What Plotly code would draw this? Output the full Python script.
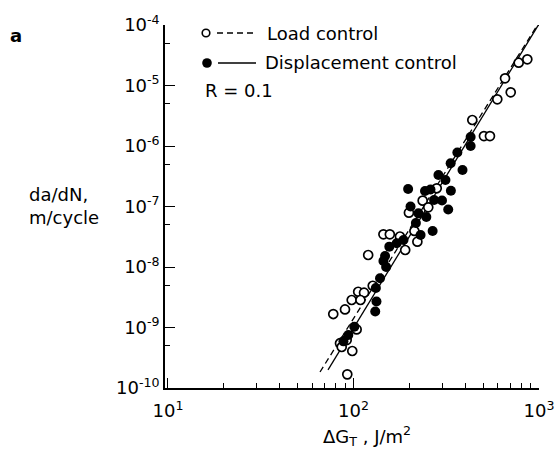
import plotly.graph_objects as go

# ---- data ----
load_dG = [865, 777, 656, 704, 596, 437, 505, 544, 281, 236, 253, 199, 213, 221,
           145, 157, 178, 190, 120, 127, 106, 114, 97.8, 109, 90, 77.8, 104, 91.9,
           84.6, 86.4, 98.5, 92.6]
load_dadN = [2.71e-5, 2.38e-5, 1.315e-5, 7.72e-6, 5.91e-6, 2.69e-6, 1.46e-6, 1.46e-6,
             2.0e-7, 1.25e-7, 9.7e-8, 7.9e-8, 3.94e-8, 2.62e-8, 3.47e-8, 3.47e-8,
             3.19e-8, 1.91e-8, 1.58e-8, 4.9e-9, 3.9e-9, 3.76e-9, 2.85e-9, 2.85e-9,
             1.99e-9, 1.67e-9, 9.3e-10, 6.2e-10, 5.5e-10, 4.76e-10, 4.09e-10, 1.68e-10]

disp_dG = [428, 428, 363, 334, 387, 287, 313, 335, 197, 243, 260, 272, 300, 324,
           203, 224, 247, 217, 267, 230, 186, 171, 156, 148, 145, 150, 139, 132,
           133, 131, 101, 93.8, 88.3]
disp_dadN = [1.41e-6, 1.0e-6, 7.8e-7, 5.18e-7, 4.01e-7, 3.32e-7, 2.74e-7, 1.82e-7,
             1.95e-7, 1.80e-7, 1.91e-7, 1.28e-7, 1.26e-7, 8.9e-8, 1.0e-7, 7.7e-8,
             6.7e-8, 5.33e-8, 3.94e-8, 3.38e-8, 2.79e-8, 2.47e-8, 2.17e-8, 1.52e-8,
             1.26e-8, 1.0e-8, 6.5e-9, 4.5e-9, 2.69e-9, 1.84e-9, 1.03e-9, 7.5e-10, 5.9e-10]

# regression lines (end points)
load_fit_dG = [66.0, 1000]
load_fit_dadN = [1.84e-10, 1.1e-4]
disp_fit_dG = [72.9, 1020]
disp_fit_dadN = [1.99e-10, 1.15e-4]

x_tickvals = [10, 100, 1000]
x_ticktext = ["10<sup>1</sup>", "10<sup>2</sup>", "10<sup>3</sup>"]
y_tickvals = [1e-10, 1e-9, 1e-8, 1e-7, 1e-6, 1e-5, 1e-4]
y_ticktext = ["10<sup>-10</sup>", "10<sup>-9</sup>", "10<sup>-8</sup>", "10<sup>-7</sup>",
              "10<sup>-6</sup>", "10<sup>-5</sup>", "10<sup>-4</sup>"]
x_minor = [m * 10 ** e for e in (1, 2) for m in range(2, 10)]
y_minor = [5 * 10.0 ** e for e in range(-10, -4)]

FONT = "DejaVu Sans"
W, H = 560, 453
L, R, T, B = 165, 21, 25, 65
PW, PH = W - L - R, H - T - B


def px(x):
    return (x - L) / PW


def py(y):
    return (H - B - y) / PH


fig = go.Figure()
fig.add_trace(go.Scatter(x=load_fit_dG, y=load_fit_dadN, mode="lines",
                         line=dict(color="black", width=1.3, dash="6px,4px"),
                         showlegend=False, hoverinfo="skip"))
fig.add_trace(go.Scatter(x=disp_fit_dG, y=disp_fit_dadN, mode="lines",
                         line=dict(color="black", width=1.3),
                         showlegend=False, hoverinfo="skip"))
fig.add_trace(go.Scatter(x=load_dG, y=load_dadN, mode="markers",
                         marker=dict(symbol="circle", size=9, color="white",
                                     line=dict(color="black", width=1.7)),
                         showlegend=False))
fig.add_trace(go.Scatter(x=disp_dG, y=disp_dadN, mode="markers",
                         marker=dict(symbol="circle", size=10, color="black",
                                     line=dict(color="black", width=0)),
                         showlegend=False))

axis_common = dict(showline=True, linecolor="black", linewidth=1.6, mirror=False,
                   showgrid=False, zeroline=False, ticks="inside", ticklen=10,
                   tickwidth=1.4, tickcolor="black", tickmode="array",
                   tickfont=dict(family=FONT, size=18, color="black"))

fig.update_xaxes(type="log", range=[0.984, 3.0], tickvals=x_tickvals, ticktext=x_ticktext,
                 ticklabelstandoff=6,
                 minor=dict(tickvals=x_minor, ticks="inside", ticklen=5, tickwidth=1.2,
                            tickcolor="black", showgrid=False),
                 **axis_common)
fig.update_yaxes(type="log", range=[-10, -4], tickvals=y_tickvals, ticktext=y_ticktext,
                 minor=dict(tickvals=y_minor, ticks="inside", ticklen=5, tickwidth=1.2,
                            tickcolor="black", showgrid=False),
                 **axis_common)

ann_font = dict(family=FONT, size=18, color="black")
annotations = [
    dict(x=px(265), y=py(33), text="Load control", xanchor="left", yanchor="middle"),
    dict(x=px(263), y=py(63), text="Displacement control", xanchor="left", yanchor="middle"),
    dict(x=px(203), y=py(90), text="R = 0.1", xanchor="left", yanchor="middle"),
    dict(x=px(27), y=py(206), text="da/dN,<br>m/cycle", xanchor="left", yanchor="middle",
         align="left"),
    dict(x=px(8), y=py(36), text="<b>a</b>", xanchor="left", yanchor="middle"),
    dict(x=px(367), y=py(436), text="ΔG<sub>T</sub> , J/m<sup>2</sup>", xanchor="center",
         yanchor="middle"),
]
for a in annotations:
    a.update(xref="paper", yref="paper", showarrow=False, font=ann_font)

shapes = [
    dict(type="line", x0=px(217), x1=px(256), y0=py(33), y1=py(33),
         line=dict(color="black", width=1.3, dash="6px,4px")),
    dict(type="line", x0=px(218), x1=px(256), y0=py(63), y1=py(63),
         line=dict(color="black", width=1.3)),
    dict(type="circle", xsizemode="pixel", ysizemode="pixel", xanchor=px(206), yanchor=py(33),
         x0=-3.8, x1=3.8, y0=-3.8, y1=3.8, line=dict(color="black", width=1.6),
         fillcolor="white"),
    dict(type="circle", xsizemode="pixel", ysizemode="pixel", xanchor=px(207), yanchor=py(63),
         x0=-4.8, x1=4.8, y0=-4.8, y1=4.8, line=dict(color="black", width=0),
         fillcolor="black"),
]
for s in shapes:
    s.update(xref="paper", yref="paper")

fig.update_layout(width=W, height=H, margin=dict(l=L, r=R, t=T, b=B, autoexpand=False),
                  paper_bgcolor="white", plot_bgcolor="white",
                  annotations=annotations, shapes=shapes, showlegend=False,
                  font=dict(family=FONT, size=18, color="black"))

fig.write_html("out.html")
